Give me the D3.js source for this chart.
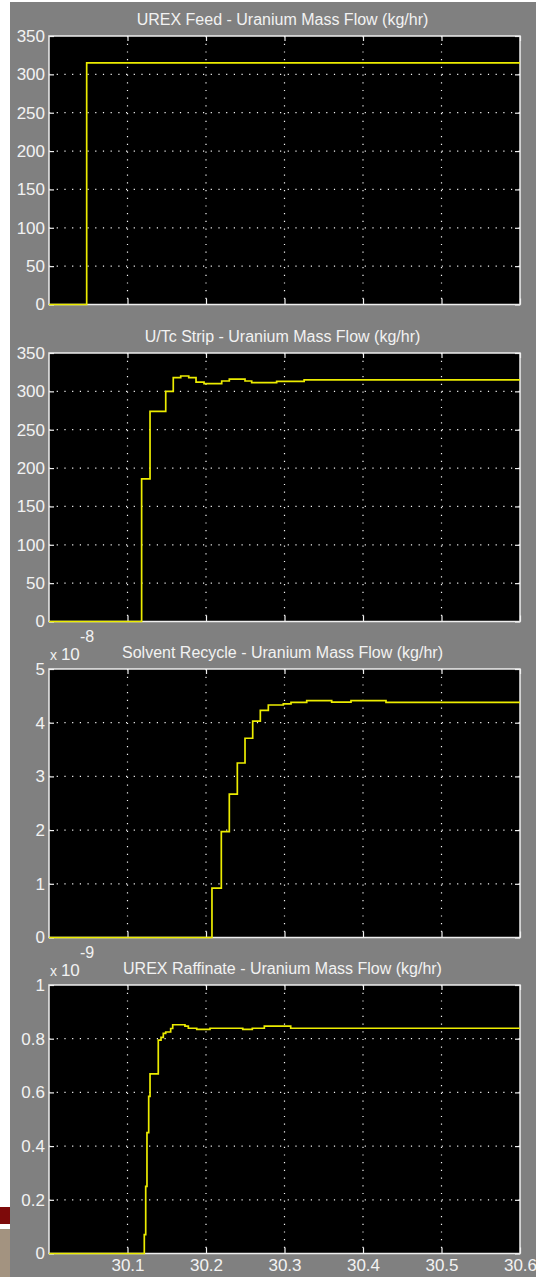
<!DOCTYPE html>
<html>
<head>
<meta charset="utf-8">
<script src="https://cdn.jsdelivr.net/npm/d3@7.9.0/dist/d3.min.js"></script>
<style>
  html, body { margin: 0; padding: 0; background: #ffffff; }
  svg { display: block; }
</style>
</head>
<body>
<svg id="chart" width="536" height="1277"></svg>
<script>
// Panel titles
const titles = [
  "UREX Feed - Uranium Mass Flow (kg/hr)",
  "U/Tc Strip - Uranium Mass Flow (kg/hr)",
  "Solvent Recycle - Uranium Mass Flow (kg/hr)",
  "UREX Raffinate - Uranium Mass Flow (kg/hr)"
];

// Y tick labels for each panel
const flowTicks = [0, 50, 100, 150, 200, 250, 300, 350];
const recycleTicks = [0, 1, 2, 3, 4, 5];
const raffinateTicks = [0, 0.2, 0.4, 0.6, 0.8, 1];

// Scale exponents shown as "x 10^n" (null = none)
const exponents = [null, null, -8, -9];

// Shared time axis (hours)
const timeTicks = [30.1, 30.2, 30.3, 30.4, 30.5, 30.6];

// Step series: value holds from each time until the next one
const feedTime = [30.0, 30.048, 30.6];
const feedFlow = [0, 315, 315];

const stripTime = [30.0, 30.118, 30.1287, 30.1487, 30.1583, 30.1678, 30.178, 30.1873,
  30.1975, 30.22, 30.2297, 30.2497, 30.2582, 30.29, 30.325, 30.6];
const stripFlow = [0, 186, 274, 300, 318, 320, 318, 312,
  310, 313.5, 316, 313.5, 311.5, 313, 315, 315];

const recycleTime = [30.0, 30.2076, 30.2195, 30.2297, 30.2399, 30.2497, 30.2595, 30.2692,
  30.2794, 30.2985, 30.3083, 30.3283, 30.3601, 30.3847, 30.4293, 30.6];
const recycleFlow = [0, 0.92, 1.97, 2.67, 3.25, 3.71, 4.03, 4.23,
  4.33, 4.35, 4.38, 4.41, 4.385, 4.41, 4.38, 4.38];

const raffinateTime = [30.0, 30.1214, 30.1232, 30.1248, 30.127, 30.1287, 30.1392, 30.1427,
  30.1456, 30.1487, 30.155, 30.1576, 30.1732, 30.1775, 30.1882, 30.2051, 30.2468,
  30.259, 30.2743, 30.3079, 30.6];
const raffinateFlow = [0, 0.07, 0.25, 0.45, 0.585, 0.669, 0.795, 0.805,
  0.82, 0.825, 0.838, 0.852, 0.847, 0.839, 0.835, 0.839, 0.835,
  0.839, 0.847, 0.839, 0.839];

const panels = [
  { title: titles[0], ticks: flowTicks, exp: exponents[0], t: feedTime, v: feedFlow },
  { title: titles[1], ticks: flowTicks, exp: exponents[1], t: stripTime, v: stripFlow },
  { title: titles[2], ticks: recycleTicks, exp: exponents[2], t: recycleTime, v: recycleFlow },
  { title: titles[3], ticks: raffinateTicks, exp: exponents[3], t: raffinateTime, v: raffinateFlow }
];

// Layout
const W = 536, H = 1277;
const left = 49, right = 520;
const panelTops = [36, 353, 669, 985];
const panelH = 268.5;
const FONT = "'Liberation Sans', Arial, sans-serif";
const TEXT = "#f2f2f2";
const GRID = "#f4f4f4";
const LINE = "#ecec00";

const svg = d3.select("#chart");

// Window background and slide decoration
svg.append("rect").attr("x", 0).attr("y", 0).attr("width", W).attr("height", H).attr("fill", "#ffffff");
svg.append("rect").attr("x", 10).attr("y", 2).attr("width", W - 10).attr("height", H - 2).attr("fill", "#808080");
svg.append("rect").attr("x", 0).attr("y", 1207).attr("width", 10).attr("height", 17).attr("fill", "#7d0a0a");
svg.append("rect").attr("x", 0).attr("y", 1229).attr("width", 10).attr("height", H - 1229).attr("fill", "#a39380");

const x = d3.scaleLinear().domain([30, 30.6]).range([left, right]);

panels.forEach((p, i) => {
  const top = panelTops[i];
  const bottom = top + panelH;
  const yMax = p.ticks[p.ticks.length - 1];
  const y = d3.scaleLinear().domain([0, yMax]).range([bottom, top]);
  const g = svg.append("g");

  // Plot area
  g.append("rect")
    .attr("x", left).attr("y", top)
    .attr("width", right - left).attr("height", panelH)
    .attr("fill", "#000000");

  // Dotted grid
  const innerX = timeTicks.filter(t => t < 30.6 - 1e-9);
  g.selectAll(".vgrid").data(innerX).join("line")
    .attr("x1", d => x(d)).attr("x2", d => x(d))
    .attr("y1", top).attr("y2", bottom)
    .attr("stroke", GRID).attr("stroke-width", 1.2)
    .attr("stroke-dasharray", "1.2,6.5");
  const innerY = p.ticks.filter(d => d > 0 && d < yMax);
  g.selectAll(".hgrid").data(innerY).join("line")
    .attr("x1", left).attr("x2", right)
    .attr("y1", d => y(d)).attr("y2", d => y(d))
    .attr("stroke", GRID).attr("stroke-width", 1.2)
    .attr("stroke-dasharray", "1.2,6.5");

  // Ticks pointing inward on all four sides
  const styleAxis = sel => {
    sel.select(".domain").remove();
    sel.selectAll(".tick line").attr("stroke", "#f0f0f0").attr("stroke-width", 1.2);
    sel.selectAll("text").attr("fill", TEXT).attr("font-family", FONT).attr("font-size", 17);
  };

  g.append("g").attr("transform", `translate(${left},0)`)
    .call(d3.axisLeft(y).tickValues(p.ticks).tickSize(-5).tickPadding(4).tickFormat(d => String(d)))
    .call(styleAxis);
  g.append("g").attr("transform", `translate(${right},0)`)
    .call(d3.axisRight(y).tickValues(p.ticks).tickSize(-5).tickFormat(""))
    .call(styleAxis);
  g.append("g").attr("transform", `translate(0,${top})`)
    .call(d3.axisTop(x).tickValues(timeTicks).tickSize(-5).tickFormat(""))
    .call(styleAxis);
  g.append("g").attr("transform", `translate(0,${bottom})`)
    .call(d3.axisBottom(x).tickValues(timeTicks).tickSize(-6).tickPadding(5)
      .tickFormat(i === panels.length - 1 ? d3.format(".1f") : ""))
    .call(styleAxis);

  // Axes box
  g.append("rect")
    .attr("x", left).attr("y", top)
    .attr("width", right - left).attr("height", panelH)
    .attr("fill", "none").attr("stroke", "#eeeeee").attr("stroke-width", 1.5);

  // Signal trace
  const pts = p.t.map((t, k) => [t, p.v[k]]);
  g.append("path")
    .datum(pts)
    .attr("fill", "none")
    .attr("stroke", LINE)
    .attr("stroke-width", 1.7)
    .attr("d", d3.line().x(d => x(d[0])).y(d => y(d[1])).curve(d3.curveStepAfter));

  // Title
  g.append("text")
    .attr("x", (left + right) / 2 - 2).attr("y", top - 11)
    .attr("text-anchor", "middle")
    .attr("fill", TEXT).attr("font-family", FONT).attr("font-size", 16)
    .text(p.title);

  // Exponent label
  if (p.exp !== null) {
    const ex = g.append("text")
      .attr("x", left + 1).attr("y", top - 9)
      .attr("fill", TEXT).attr("font-family", FONT).attr("font-size", 17);
    ex.append("tspan").attr("font-size", 14).text("x ");
    ex.append("tspan").text("10");
    g.append("text")
      .attr("x", left + 31).attr("y", top - 27)
      .attr("fill", TEXT).attr("font-family", FONT).attr("font-size", 16)
      .text(String(p.exp));
  }
});
</script>
</body>
</html>
